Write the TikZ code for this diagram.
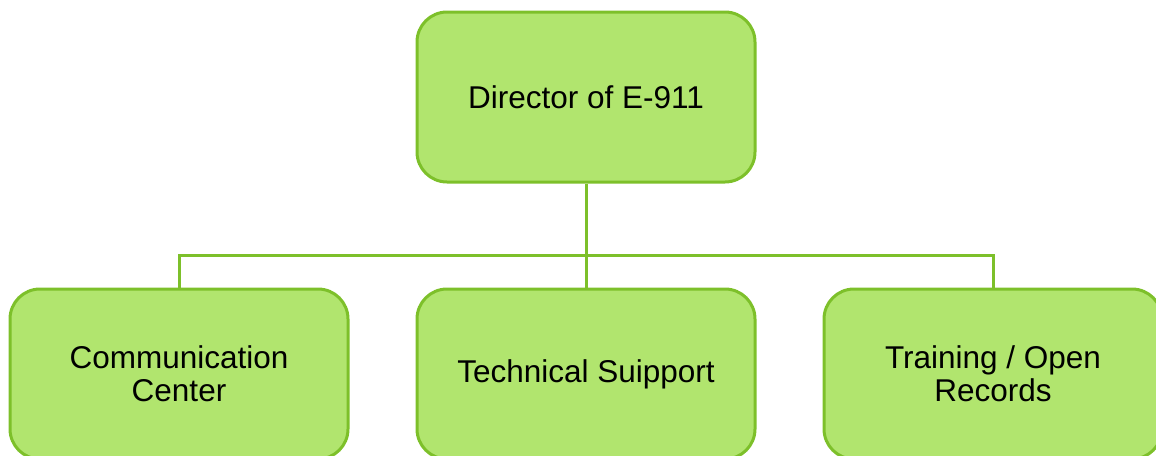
\documentclass[tikz,border=0pt]{standalone}
\usepackage{fontspec}
\setmainfont{Liberation Sans}
\usetikzlibrary{positioning}
\definecolor{boxFill}{HTML}{B1E56E}
\definecolor{boxLine}{HTML}{7DC02A}
\begin{document}
\begin{tikzpicture}[x=1pt, y=1pt,
    unitbox/.style={draw=boxLine, fill=boxFill, line width=3pt, rounded corners=30pt,
      minimum width=338pt, minimum height=170pt, align=center, inner sep=0pt,
      font=\fontsize{31.5}{33}\selectfont},
    link/.style={draw=boxLine, line width=3pt}]
  \useasboundingbox (0,0) rectangle (1156,-455);
  % jefe
  \node[unitbox] (director) at (586,-97) {Director of E-911};
  % areas
  \node[unitbox, below=104pt of director] (techsup) {Technical Suipport};
  \node[unitbox, left=66pt of techsup] (commcenter) {Communication\\Center};
  \node[unitbox, right=66pt of techsup] (training) {Training / Open\\Records};
  \coordinate (bus) at ([yshift=-72pt]director.south);
  \draw[link] (director.south) -- (techsup.north);
  \draw[link] (commcenter.north) |- (bus) -| (training.north);
\end{tikzpicture}
\end{document}
